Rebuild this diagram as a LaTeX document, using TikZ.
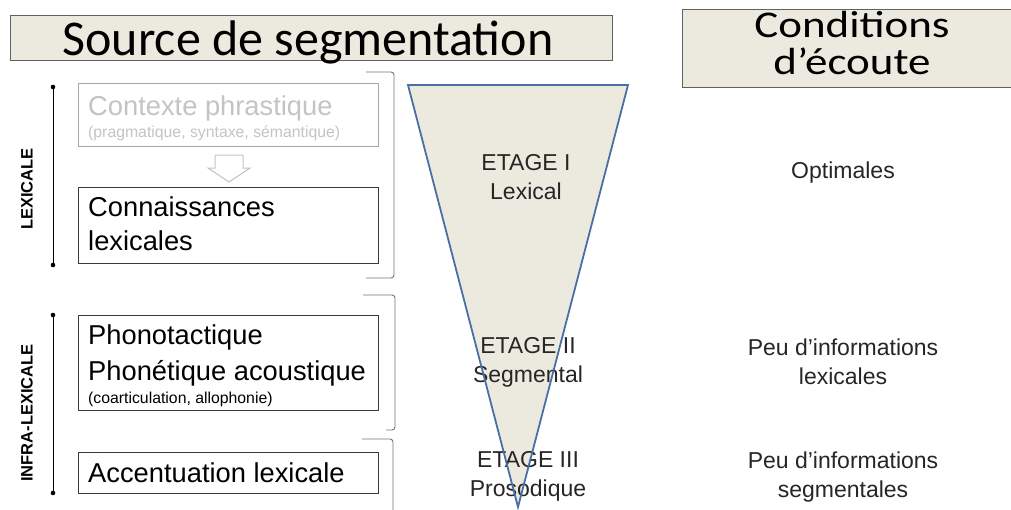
\documentclass[tikz,border=0pt]{standalone}
\usepackage{fontspec}
\setmainfont{Liberation Sans}
\newfontfamily\carlitofont{Carlito}
\definecolor{beige}{HTML}{ECEADF}
\definecolor{triblue}{HTML}{4A6FA5}
\definecolor{boxline}{HTML}{3A3A3A}
\definecolor{faded}{HTML}{C4C4C4}
\tikzset{
  titlebox/.style={draw=boxline!80, fill=beige, line width=0.9, inner sep=0},
  srcbox/.style={draw=boxline, line width=0.9, minimum width=300, inner sep=0, anchor=north west},
  lbl/.style={anchor=base west, inner sep=0},
  bigtxt/.style={lbl, font=\fontsize{27.3}{33}\selectfont},
  smalltxt/.style={lbl, font=\fontsize{15.8}{18}\selectfont},
  midtxt/.style={font=\fontsize{23}{29}\selectfont, align=center, text=black!85},
  sidelbl/.style={font=\bfseries\fontsize{16.5}{18}\selectfont, rotate=90},
  brk/.style={draw=boxline!70, line width=0.9, rounded corners=3},
  rangeline/.style={draw=black, line width=0.9},
  titletxt/.style={anchor=base, inner sep=0},
}
\begin{document}
\begin{tikzpicture}[x=1pt,y=-1pt]
\useasboundingbox (0,0) rectangle (1011,509);
\fill[white] (0,0) rectangle (1011,509);

% titles
\node[titlebox, minimum width=602, minimum height=45, anchor=north west] (t1) at (10,15) {};
\node[titletxt, font=\carlitofont\fontsize{50}{50}\selectfont] (t1txt) at (308,55) {Source de segmentation};
\node[titlebox, minimum width=340, minimum height=78, anchor=north west] (t2) at (682,9) {};
\node[titletxt, font=\carlitofont\fontsize{45}{45}\selectfont] (t2a) at (852,37) {\scalebox{1}[0.84]{Conditions}};
\node[titletxt, font=\carlitofont\fontsize{45}{45}\selectfont] (t2b) at (852,74) {\scalebox{1}[0.84]{d’écoute}};

% range lines with dots
\coordinate (l1a) at (53,87); \coordinate (l1b) at (53,265);
\coordinate (l2a) at (53,315); \coordinate (l2b) at (53,493);
\draw[rangeline] (l1a) -- (l1b);
\draw[rangeline] (l2a) -- (l2b);
\foreach \p in {l1a,l1b,l2a,l2b} \fill (\p) circle (2.3);
\node[sidelbl] (lex) at (27,189) {LEXICALE};
\node[sidelbl] (infra) at (27,413) {INFRA-LEXICALE};

% source boxes
\node[srcbox, draw=faded!85!black, minimum height=63] (ctx) at (78,83) {};
\node[bigtxt, text=faded] (ctx1) at (88,115) {Contexte phrastique};
\node[smalltxt, text=faded] (ctx2) at (88,137) {(pragmatique, syntaxe, sémantique)};
\draw[draw=faded, line width=1, fill=white] (215,155) -- (243,155) -- (243,168) -- (250,168) -- (229,182) -- (208,168) -- (215,168) -- cycle;

\node[srcbox, minimum height=76] (conn) at (78,187) {};
\node[bigtxt] (conn1) at (88,216) {Connaissances};
\node[bigtxt] (conn2) at (88,250) {lexicales};

\node[srcbox, minimum height=95] (phono) at (78,315) {};
\node[bigtxt] (ph1) at (88,344) {Phonotactique};
\node[bigtxt] (ph2) at (88,380) {Phonétique acoustique};
\node[smalltxt] (ph3) at (88,403) {(coarticulation, allophonie)};

\node[srcbox, minimum height=41] (accent) at (78,452) {};
\node[bigtxt] (acc1) at (88,482) {Accentuation lexicale};

% right brackets
\draw[brk] (366,72) -- (394,72) -- (394,278) -- (366,278);
\draw[brk] (363,295) -- (395,295) -- (395,430) -- (386,430);
\draw[brk] (362,439) -- (393,439) -- (393,515);

% funnel triangle
\coordinate (ta) at (408,85); \coordinate (tb) at (628,85); \coordinate (tc) at (518,507);
\fill[beige] (ta) -- (tb) -- (tc) -- cycle;
\node[midtxt] (e1) at (526,177) {ETAGE I\\Lexical};
\node[midtxt] (e2) at (528,362) {ETAGE II\\Segmental};
\node[midtxt] (e3) at (528,476) {ETAGE III\\Prosodique};
\draw[triblue, line width=1.8, line join=miter] (ta) -- (tb) -- (tc) -- cycle;

% conditions
\node[midtxt] (c1) at (843,173) {Optimales};
\node[midtxt] (c2) at (843,362) {Peu d’informations\\lexicales};
\node[midtxt] (c3) at (843,477) {Peu d’informations\\segmentales};
\end{tikzpicture}
\end{document}
